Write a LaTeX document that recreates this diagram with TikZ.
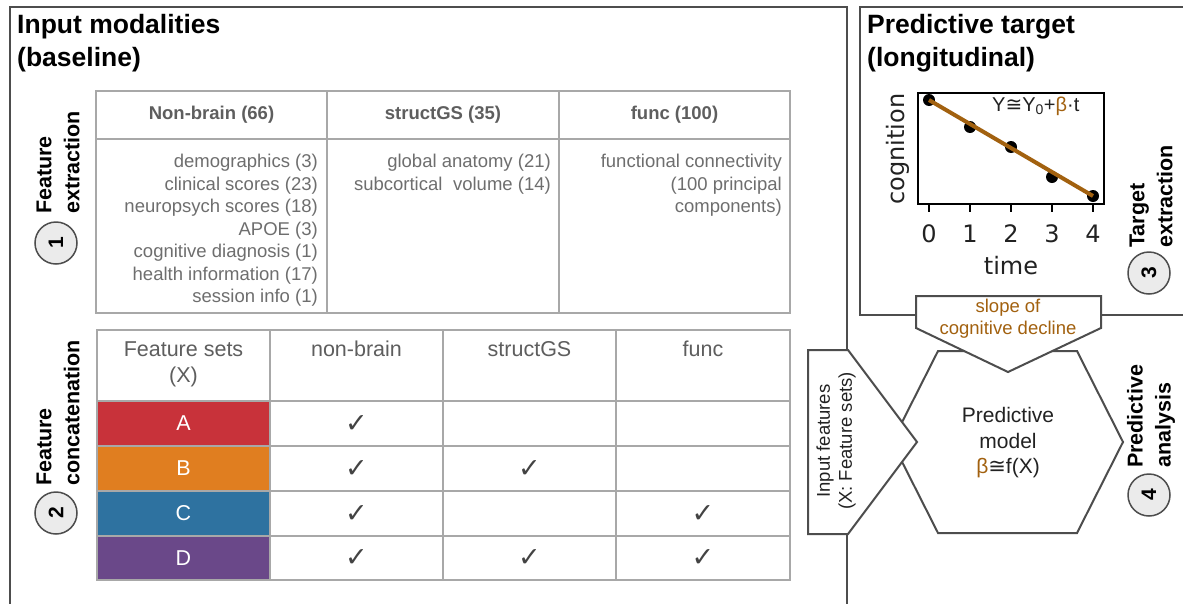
\documentclass[tikz,border=0pt]{standalone}
\usepackage{fontspec}
\setmainfont{Liberation Sans}
\newfontfamily\djv{DejaVu Sans}
\definecolor{panel}{HTML}{4D4D4D}
\definecolor{grid}{HTML}{A8A8A8}
\definecolor{tgray}{HTML}{5E5E5E}
\definecolor{setA}{HTML}{C8323A}
\definecolor{setB}{HTML}{E07E20}
\definecolor{setC}{HTML}{2E72A0}
\definecolor{setD}{HTML}{6A4889}
\definecolor{brn}{HTML}{A2610F}
\definecolor{circfill}{HTML}{EBEBEB}
\definecolor{ink}{HTML}{222222}
\begin{document}
\begin{tikzpicture}[x=1pt,y=-1pt,
  panelline/.style={draw=panel,line width=2pt},
  gridline/.style={draw=grid,line width=2pt},
  shapeline/.style={draw=panel,line width=2pt,fill=white,line join=miter},
  title/.style={font=\fontsize{26.5}{33}\selectfont\bfseries,align=left,anchor=north west,inner sep=0pt},
  hdr/.style={font=\fontsize{18.5}{22.5}\selectfont\bfseries,text=tgray,inner sep=0pt},
  body/.style={font=\fontsize{18.5}{22.5}\selectfont,text=tgray!90!white,align=right,anchor=north east,inner sep=0pt},
  hdrtwo/.style={font=\fontsize{21.5}{27}\selectfont,text=tgray,align=center,anchor=north,inner sep=0pt},
  setcell/.style={draw=grid,line width=2pt,minimum width=173pt,minimum height=45pt,inner sep=0pt,text=white,font=\fontsize{21.5}{26}\selectfont},
  chk/.style={font=\djv\fontsize{27}{30}\selectfont,text=ink!85!white,inner sep=0pt},
  steplabel/.style={rotate=90,anchor=west,align=left,inner sep=0pt,font=\fontsize{21.5}{28}\selectfont\bfseries},
  stepnum/.style={circle,draw=panel,line width=1.5pt,fill=circfill,minimum size=42pt,inner sep=0pt,rotate=90,font=\fontsize{21}{24}\selectfont\bfseries},
  plottext/.style={font=\djv\fontsize{24}{28}\selectfont,inner sep=0pt,text=ink},
  dot/.style={circle,fill=black,minimum size=12pt,inner sep=0pt},
  midtext/.style={font=\fontsize{18.5}{22}\selectfont,align=center,inner sep=0pt}
]
\fill[white] (0,0) rectangle (1183,603);
\useasboundingbox (0,0) rectangle (1183,603);

% ---------- panels ----------
\draw[panelline] (10,610) -- (10,7) -- (847,7) -- (847,610);
\draw[panelline] (1190,7) -- (860,7) -- (860,315) -- (1190,315);

\node[title] (t1) at (17,14) {Input modalities\\(baseline)};
\node[title] (t2) at (867,14) {Predictive target\\(longitudinal)};

% ---------- step labels ----------
\node[steplabel] (s1) at (58,214) {Feature\\extraction};
\node[stepnum] (n1) at (56,243) {1};
\node[steplabel] (s2) at (58,486) {Feature\\concatenation};
\node[stepnum] (n2) at (56,513) {2};
\node[steplabel] (s3) at (1151,248) {Target\\extraction};
\node[stepnum] (n3) at (1149,273) {3};
\node[steplabel] (s4) at (1151,468) {Predictive\\analysis};
\node[stepnum] (n4) at (1149,495) {4};

% ---------- top table ----------
\draw[gridline] (96,91) rectangle (790,313);
\draw[gridline] (96,139) -- (790,139);
\draw[gridline] (327,91) -- (327,313);
\draw[gridline] (559,91) -- (559,313);
\node[hdr] (h1) at (211.5,115) {Non-brain (66)};
\node[hdr] (h2) at (443,115) {structGS (35)};
\node[hdr] (h3) at (674.5,115) {func (100)};
\node[body] (b1) at (318,154) {demographics (3)\\clinical scores (23)\\neuropsych scores (18)\\APOE (3)\\cognitive diagnosis (1)\\health information (17)\\session info (1)};
\node[body] (b2) at (551,154) {global anatomy (21)\\subcortical\hspace{0.3em} volume (14)};
\node[body] (b3) at (782,154) {functional connectivity\\(100 principal\\components)};

% ---------- bottom table ----------
\node[setcell,fill=setA] (cA) at (183.5,423.5) {A};
\node[setcell,fill=setB] (cB) at (183.5,468.5) {B};
\node[setcell,fill=setC] (cC) at (183.5,513.5) {C};
\node[setcell,fill=setD,minimum height=44pt] (cD) at (183.5,558) {D};
\draw[gridline] (97,330) rectangle (790,580);
\foreach \yy in {401,446,491,536} \draw[gridline] (97,\yy) -- (790,\yy);
\foreach \xx in {270,443,616} \draw[gridline] (\xx,330) -- (\xx,580);
\node[hdrtwo] (g0) at (183.5,341) {Feature sets\\(X)};
\node[hdrtwo] (g1) at (356.5,341) {non-brain};
\node[hdrtwo] (g2) at (529.5,341) {structGS};
\node[hdrtwo] (g3) at (703,341) {func};
\node[chk] (kA1) at (356.5,424) {✓};
\node[chk] (kB1) at (356.5,469) {✓};
\node[chk] (kB2) at (529.5,469) {✓};
\node[chk] (kC1) at (356.5,514) {✓};
\node[chk] (kC3) at (703,514) {✓};
\node[chk] (kD1) at (356.5,558) {✓};
\node[chk] (kD2) at (529.5,558) {✓};
\node[chk] (kD3) at (703,558) {✓};

% ---------- plot ----------
\draw[black,line width=1.5pt] (918,93) rectangle (1104,204);
\foreach \xx/\lab in {929/0,970/1,1011/2,1052/3,1093/4}{
  \draw[black,line width=1.5pt] (\xx,204) -- (\xx,212);
  \node[plottext] (tk\lab) at (\xx,234) {\lab};
}
\node[plottext] (xl) at (1011,266) {time};
\node[plottext,rotate=90] (yl) at (898,149) {cognition};
\node[dot] (p0) at (929,100) {};
\node[dot] (p1) at (970,127) {};
\node[dot] (p2) at (1011,147) {};
\node[dot] (p3) at (1052,177) {};
\node[dot] (p4) at (1093,196) {};
\draw[brn,line width=4pt] (p0.center) -- (p4.center);
\node[midtext,anchor=west,text=ink,font=\fontsize{20}{24}\selectfont] (eq) at (992,106) {Y{\djv ≅}Y\textsubscript{0}+{\color{brn}β}·t};

% ---------- predictive analysis shapes ----------
\draw[shapeline] (938,351) -- (1077,351) -- (1123,442) -- (1077,533) -- (938,533) -- (892,442) -- cycle;
\draw[shapeline] (808,350) -- (848,350) -- (917,442) -- (848,534) -- (808,534) -- cycle;
\draw[shapeline] (916,296) -- (1101,296) -- (1101,328) -- (1008,372) -- (916,328) -- cycle;
\node[midtext,text=ink,font=\fontsize{21}{25.5}\selectfont] (pm) at (1008,443) {Predictive\\model\\{\color{brn}β}{\djv ≅}f(X)};
\node[midtext,text=ink,rotate=90] (inf) at (836,441) {Input features\\(X: Feature sets)};
\node[midtext,text=brn] (sl) at (1008,319) {slope of\\cognitive decline};
\end{tikzpicture}
\end{document}
